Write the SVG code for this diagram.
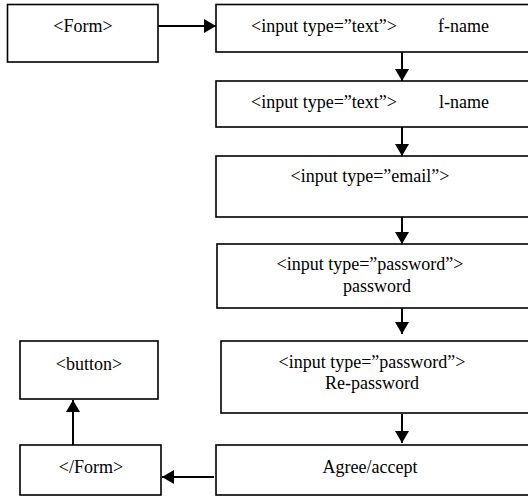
<svg xmlns="http://www.w3.org/2000/svg" width="528" height="496" viewBox="0 0 528 496">
<defs>
<style>
svg text, g text, text{font-family:'Liberation Serif',serif !important;font-size:18px;fill:#000;stroke:none}
.box{fill:#fff;stroke:#000;stroke-width:1.6}
.m{text-anchor:middle}
.c{fill:none;stroke:#000;stroke-width:2}
</style>
<marker id="ah" viewBox="0 0 12 14" refX="12" refY="7" markerWidth="12" markerHeight="14" markerUnits="userSpaceOnUse" orient="auto">
<path d="M0,0 L12,7 L0,14 Z" fill="#000" stroke="none"/>
</marker>
</defs>
<rect width="528" height="496" fill="#fff"/>
<g id="form-open"><rect class="box" x="7.5" y="4.5" width="150.5" height="57.5"/><text x="83" y="32" font-family="Liberation Serif" style="font-family:'Liberation Serif',serif !important" class="m">&lt;Form&gt;</text></g>
<g id="fname"><rect class="box" x="216" y="4.5" width="330" height="47.5"/><text x="251" y="32" font-family="Liberation Serif" style="font-family:'Liberation Serif',serif !important">&lt;input type=&#8221;text&#8221;&gt;</text><text x="438" y="32" font-family="Liberation Serif" style="font-family:'Liberation Serif',serif !important">f-name</text></g>
<g id="lname"><rect class="box" x="216" y="81" width="330" height="46"/><text x="251" y="108" font-family="Liberation Serif" style="font-family:'Liberation Serif',serif !important">&lt;input type=&#8221;text&#8221;&gt;</text><text x="439" y="108" font-family="Liberation Serif" style="font-family:'Liberation Serif',serif !important">l-name</text></g>
<g id="email"><rect class="box" x="216" y="156" width="330" height="61"/><text x="370" y="182" font-family="Liberation Serif" style="font-family:'Liberation Serif',serif !important" class="m">&lt;input type=&#8221;email&#8221;&gt;</text></g>
<g id="password"><rect class="box" x="217" y="244" width="330" height="64"/><text x="370" y="270" font-family="Liberation Serif" style="font-family:'Liberation Serif',serif !important" class="m">&lt;input type=&#8221;password&#8221;&gt;</text><text x="377" y="292" font-family="Liberation Serif" style="font-family:'Liberation Serif',serif !important" class="m">password</text></g>
<g id="repassword"><rect class="box" x="221" y="341" width="330" height="72"/><text x="372" y="368" font-family="Liberation Serif" style="font-family:'Liberation Serif',serif !important" class="m">&lt;input type=&#8221;password&#8221;&gt;</text><text x="372" y="389" font-family="Liberation Serif" style="font-family:'Liberation Serif',serif !important" class="m">Re-password</text></g>
<g id="agree"><rect class="box" x="216" y="445" width="330" height="50"/><text x="370" y="473" font-family="Liberation Serif" style="font-family:'Liberation Serif',serif !important" class="m">Agree/accept</text></g>
<g id="button"><rect class="box" x="20" y="341" width="138" height="58"/><text x="89" y="370" font-family="Liberation Serif" style="font-family:'Liberation Serif',serif !important" class="m">&lt;button&gt;</text></g>
<g id="form-close"><rect class="box" x="20" y="445" width="141" height="50"/><text x="91" y="473" font-family="Liberation Serif" style="font-family:'Liberation Serif',serif !important" class="m">&lt;/Form&gt;</text></g>
<g id="connectors">
<line class="c" x1="158" y1="26" x2="216" y2="26" marker-end="url(#ah)"/>
<line class="c" x1="402" y1="52" x2="402" y2="81" marker-end="url(#ah)"/>
<line class="c" x1="402" y1="127" x2="402" y2="156" marker-end="url(#ah)"/>
<line class="c" x1="402" y1="217" x2="402" y2="244" marker-end="url(#ah)"/>
<line class="c" x1="402" y1="308" x2="402" y2="334" marker-end="url(#ah)"/>
<line class="c" x1="402" y1="414" x2="402" y2="443" marker-end="url(#ah)"/>
<line class="c" x1="214" y1="477" x2="162" y2="477" marker-end="url(#ah)"/>
<line class="c" x1="73" y1="445" x2="73" y2="400" marker-end="url(#ah)"/>
</g>
</svg>
